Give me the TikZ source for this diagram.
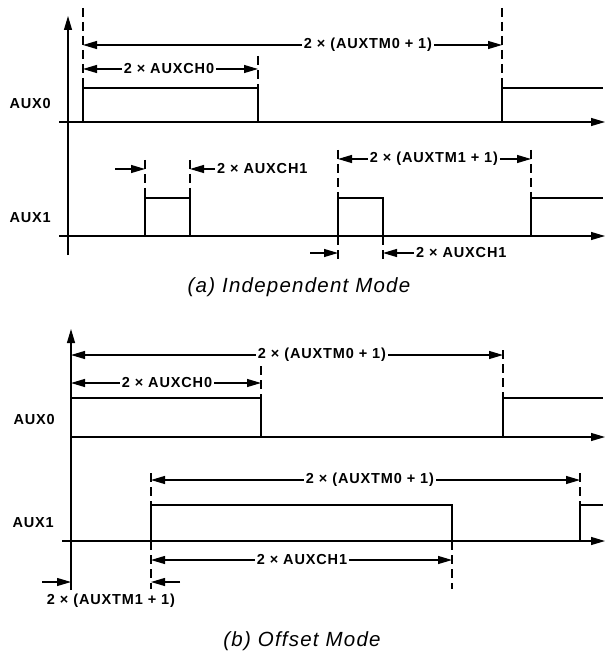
\documentclass[tikz,border=0pt]{standalone}
\usepackage{fontspec}
\newfontfamily\lblfont{Liberation Sans}[LetterSpace=6]
\usepackage{tikz}
\usetikzlibrary{arrows.meta}

\begin{document}
\begin{tikzpicture}[x=1pt, y=-1pt,
  sig/.style={line width=2.4pt, line join=miter},
  tline/.style={line width=1.1pt, -{Triangle[length=14pt,width=8pt]}},
  dsh/.style={line width=1.5pt, dash pattern=on 9pt off 5pt},
  dimline/.style={line width=1.1pt, {Triangle[length=14pt,width=8pt]}-{Triangle[length=14pt,width=8pt]}},
  pt/.style={line width=1.1pt, -{Triangle[length=14pt,width=8pt]}},
  lbl/.style={font=\lblfont\bfseries\fontsize{14.5}{17}\selectfont, fill=white, inner sep=2pt},
  name lbl/.style={font=\lblfont\bfseries\fontsize{14.5}{17}\selectfont, inner sep=1pt},
  captxt/.style={font=\lblfont\itshape\fontsize{20.5}{24}\selectfont, inner sep=0pt}]
\useasboundingbox (0,0) rectangle (605,652);
%
% (a) independent mode
\draw[tline] (68,255) -- (68,16);
\draw[tline] (59,122) -- (605,122);
\draw[tline] (59,236) -- (605,236);
%
\draw[sig] (59,122) -- (83,122) -- (83,88) -- (258,88) -- (258,122) -- (502,122) -- (502,88) -- (603,88);
\draw[dsh] (83,8) -- (83,88);
\draw[dsh] (258,56) -- (258,88);
\draw[dsh] (502,8) -- (502,88);
\draw[dimline] (83,45) -- (502,45);
\node[lbl] (aTM0) at (368,45) {2 × (AUXTM0 + 1)};
\draw[dimline] (83,69) -- (258,69);
\node[lbl] (aCH0) at (169,69) {2 × AUXCH0};
\node[name lbl, anchor=east] (aAUX0) at (52,104) {AUX0};
%
\draw[sig] (59,236) -- (145,236) -- (145,198) -- (190,198) -- (190,236) -- (338,236) -- (338,198) -- (383,198) -- (383,236) -- (531,236) -- (531,198) -- (603,198);
\draw[dsh] (145,160) -- (145,198);
\draw[dsh] (190,160) -- (190,198);
\draw[dsh] (338,150) -- (338,198);
\draw[dsh] (531,150) -- (531,198);
\draw[dsh] (338,236) -- (338,260);
\draw[dsh] (383,236) -- (383,260);
\draw[pt] (115,169) -- (145,169);
\node[lbl, anchor=west] (aCH1t) at (215,169) {2 × AUXCH1};
\draw[pt] (aCH1t.west) -- (190,169);
\draw[dimline] (338,159) -- (531,159);
\node[lbl] (aTM1) at (434,159) {2 × (AUXTM1 + 1)};
\draw[pt] (310,253) -- (338,253);
\node[lbl, anchor=west] (aCH1b) at (414,253) {2 × AUXCH1};
\draw[pt] (aCH1b.west) -- (383,253);
\node[name lbl, anchor=east] (aAUX1) at (52,218) {AUX1};
\node[captxt] (capA) at (299,287) {(a) Independent Mode};
%
% (b) offset mode
\draw[tline] (71,590) -- (71,329);
\draw[tline] (71,437) -- (605,437);
\draw[tline] (62,541) -- (605,541);
%
\draw[sig] (71,437) -- (71,398) -- (261,398) -- (261,437) -- (503,437) -- (503,398) -- (603,398);
\draw[dsh] (261,366) -- (261,398);
\draw[dsh] (503,350) -- (503,398);
\draw[dimline] (71,355) -- (503,355);
\node[lbl] (bTM0) at (322,355) {2 × (AUXTM0 + 1)};
\draw[dimline] (71,383) -- (261,383);
\node[lbl] (bCH0) at (167,383) {2 × AUXCH0};
\node[name lbl, anchor=east] (bAUX0) at (56,420) {AUX0};
%
\draw[sig] (62,541) -- (151,541) -- (151,505) -- (452,505) -- (452,541) -- (580,541) -- (580,505) -- (603,505);
\draw[dsh] (151,473) -- (151,505);
\draw[dsh] (580,473) -- (580,505);
\draw[dsh] (151,541) -- (151,589);
\draw[dsh] (452,541) -- (452,589);
\draw[dimline] (151,480) -- (580,480);
\node[lbl] (bTM0b) at (370,480) {2 × (AUXTM0 + 1)};
\draw[dimline] (151,560) -- (452,560);
\node[lbl] (bCH1) at (302,560) {2 × AUXCH1};
\draw[pt] (42,582) -- (71,582);
\draw[pt] (180,582) -- (151,582);
\node[name lbl] (bTM1) at (111,601) {2 × (AUXTM1 + 1)};
\node[name lbl, anchor=east] (bAUX1) at (55,523) {AUX1};
\node[captxt] (capB) at (302,641) {(b) Offset Mode};
\end{tikzpicture}
\end{document}
